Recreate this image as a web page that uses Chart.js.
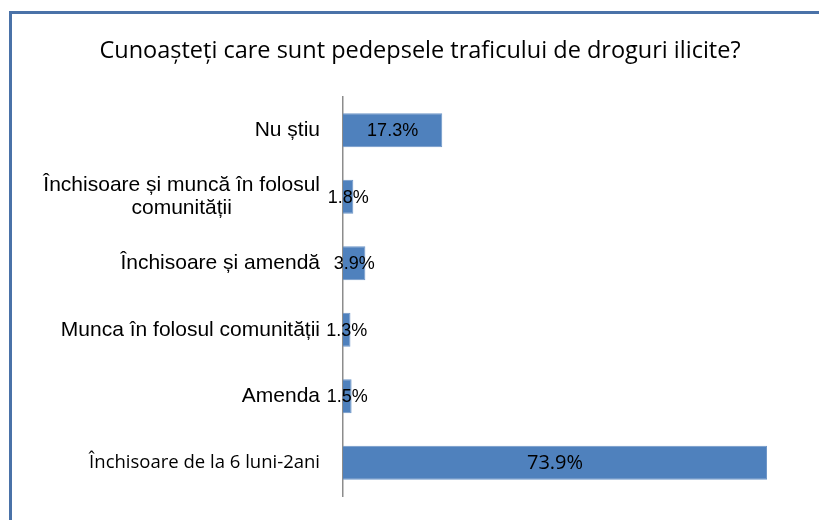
<!DOCTYPE html>
<html>
<head>
<meta charset="utf-8">
<script src="https://cdn.jsdelivr.net/npm/chart.js@4.4.0/dist/chart.umd.min.js"></script>
<style>
    html, body { margin: 0; padding: 0; background: #fff; }
    #frame { position: absolute; left: 9px; top: 11px; width: 840px; height: 560px; border: 3px solid #4a72a8; box-sizing: border-box; }
    #wrap { position: absolute; left: 0; top: 0; width: 819px; height: 520px; }
</style>
</head>
<body>
<div id="frame"></div>
<div id="wrap"><canvas id="chart" width="819" height="520"></canvas></div>
<script>
// Date
const categories = [
    'Nu știu',
    ['Închisoare și muncă în folosul', 'comunității'],
    'Închisoare și amendă',
    'Munca în folosul comunității',
    'Amenda',
    'Închisoare de la 6 luni-2ani'
];
const values = [17.3, 1.8, 3.9, 1.3, 1.5, 73.9];
const valueLabels = ['17.3%', '1.8%', '3.9%', '1.3%', '1.5%', '73.9%'];
const titleText = 'Cunoașteți care sunt pedepsele traficului de droguri ilicite?';

// stil pentru fiecare eticheta (ultima e scrisa cu alt font in original)
const arial = '"Liberation Sans", Arial, sans-serif';
const calibri = '"Open Sans", "Noto Sans", sans-serif';
const catFonts = ['21px ' + arial, '21px ' + arial, '21px ' + arial, '21px ' + arial, '21px ' + arial, '18.5px ' + calibri];

// Plugin: titlul, centrat pe toata imaginea
const chartTitle = {
    id: 'chartTitle',
    afterDraw(chart) {
        const ctx = chart.ctx;
        ctx.save();
        ctx.fillStyle = '#000';
        ctx.font = '23.5px ' + calibri;
        ctx.textAlign = 'center';
        ctx.textBaseline = 'middle';
        ctx.fillText(titleText, 420, 51);
        ctx.restore();
    }
};

// Plugin: etichetele categoriilor (blocul aliniat la dreapta, randurile centrate)
const categoryLabels = {
    id: 'categoryLabels',
    afterDraw(chart) {
        const ctx = chart.ctx;
        const yScale = chart.scales.y;
        const right = yScale.left - 23;
        ctx.save();
        ctx.fillStyle = '#000';
        ctx.textBaseline = 'middle';
        ctx.textAlign = 'center';
        categories.forEach((label, i) => {
            const lines = Array.isArray(label) ? label : [label];
            ctx.font = catFonts[i];
            const blockW = Math.max(...lines.map(l => ctx.measureText(l).width));
            const cx = right - blockW / 2;
            const lh = 23;
            const yc = yScale.getPixelForValue(i);
            lines.forEach((l, k) => {
                ctx.fillText(l, cx, yc + (k - (lines.length - 1) / 2) * lh);
            });
        });
        ctx.restore();
    }
};

// Plugin: valorile procentuale in centrul barelor
const valueText = {
    id: 'valueText',
    afterDatasetsDraw(chart) {
        const ctx = chart.ctx;
        const meta = chart.getDatasetMeta(0);
        ctx.save();
        ctx.fillStyle = '#000';
        ctx.textAlign = 'center';
        ctx.textBaseline = 'middle';
        meta.data.forEach((bar, i) => {
            const x = chart.scales.x.getPixelForValue(values[i] / 2);
            ctx.font = (i === 5 ? '20px ' + calibri : '18px ' + arial);
            ctx.fillText(valueLabels[i], x, bar.y + 1);
        });
        ctx.restore();
    }
};

new Chart(document.getElementById('chart'), {
    type: 'bar',
    data: {
        labels: categories,
        datasets: [{
            data: values,
            backgroundColor: '#4f81bd',
            borderColor: '#6f97c8',
            borderWidth: 1,
            barPercentage: 0.51,
            categoryPercentage: 1
        }]
    },
    options: {
        indexAxis: 'y',
        responsive: false,
        animation: false,
        layout: { padding: { left: 343, right: 17, top: 97, bottom: 24 } },
        scales: {
            x: { display: false, min: 0, max: 80 },
            y: {
                display: true,
                ticks: { display: false },
                grid: { display: false, drawTicks: false },
                border: { display: true, color: '#8c8c8c', width: 1.5 }
            }
        },
        plugins: {
            legend: { display: false },
            tooltip: { enabled: false },
            title: { display: false }
        }
    },
    plugins: [chartTitle, categoryLabels, valueText]
});
</script>
</body>
</html>
